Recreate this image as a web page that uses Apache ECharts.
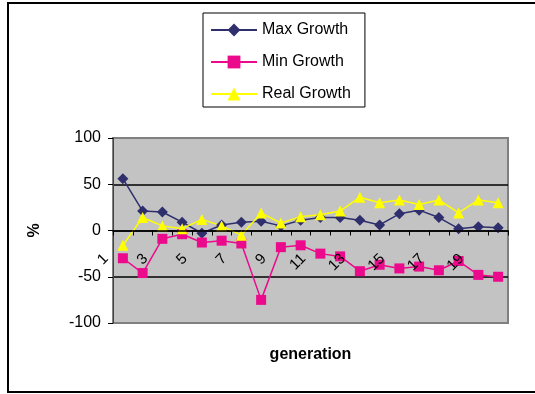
<!DOCTYPE html>
<html><head><meta charset="utf-8">
<script src="https://cdn.jsdelivr.net/npm/echarts@6/dist/echarts.min.js"></script>
<style>html,body{margin:0;padding:0;background:#fff}#c{width:535px;height:394px}</style>
</head><body><div id="c"></div>
<script>
var categories = ['1','2','3','4','5','6','7','8','9','10','11','12','13','14','15','16','17','18','19','20'];
var maxGrowth = [56, 21, 20, 9, -3, 6, 9, 10, 5, 11, 14, 14, 11, 6, 18, 22, 14, 2, 4, 3];
var minGrowth = [-30, -46, -9, -4, -13, -11, -14, -75, -18, -16, -25, -28, -44, -37, -41, -39, -43, -33, -48, -50];
var realGrowth = [-16, 14, 5, 2, 12, 5, -5, 19, 8, 15, 17, 21, 36, 30, 33, 28, 33, 19, 33, 30];
var yTicks = {min: -100, max: 100, interval: 50};

var chart = echarts.init(document.getElementById('c'));
var font = 'Arial, "Liberation Sans", sans-serif';
chart.setOption({
  animation: false,
  backgroundColor: '#fff',
  graphic: [{type:'rect', shape:{x:8, y:3, width:540, height:389}, style:{fill:'none', stroke:'#000', lineWidth:2}, z:-1}],
  legend: {
    orient: 'vertical', left: 203, top: 13,
    padding: [9, 14, 5, 7], itemGap: 16, itemWidth: 46, itemHeight: 16,
    borderColor: '#000', borderWidth: 1, backgroundColor: '#fff',
    textStyle: {fontFamily: font, fontSize: 16, color: '#000'},
    data: ['Max Growth', 'Min Growth', 'Real Growth']
  },
  grid: {left: 113, top: 138, right: 27, bottom: 71, show: true, outerBoundsMode: 'none', containLabel: false,
         backgroundColor: '#C3C3C3', borderColor: '#808080', borderWidth: 2},
  xAxis: {
    type: 'category', data: categories, boundaryGap: true, position: 'bottom', offset: -92.5, z: 5,
    name: 'generation', nameLocation: 'middle', nameGap: 116,
    nameTextStyle: {fontFamily: font, fontSize: 16, fontWeight: 'bold', color: '#000'},
    axisLine: {onZero: false, lineStyle: {color: '#000', width: 1.5}},
    axisTick: {show: true, alignWithLabel: false, interval: 0, length: 5, lineStyle: {color: '#000'}},
    axisLabel: {interval: 1, rotate: 45, margin: 9, padding: [0, 24, 0, 0], fontFamily: font, fontSize: 15, color: '#000'},
    splitLine: {show: false}
  },
  yAxis: {
    type: 'value', min: yTicks.min, max: yTicks.max, interval: yTicks.interval,
    name: '%', nameLocation: 'middle', nameGap: 70, nameRotate: 90,
    nameTextStyle: {fontFamily: font, fontSize: 16, fontWeight: 'bold', color: '#000'},
    axisLine: {show: true, lineStyle: {color: '#444', width: 1}},
    axisTick: {show: true, length: 5, lineStyle: {color: '#000'}},
    axisLabel: {margin: 12, fontFamily: font, fontSize: 16, color: '#000'},
    splitLine: {show: true, lineStyle: {color: ['#808080', '#000', '#000', '#000', '#808080'], width: 1.5}}
  },
  series: [
    {name: 'Max Growth', type: 'line', data: maxGrowth, symbol: 'diamond', symbolSize: 11,
     itemStyle: {color: '#2F2F6E'}, lineStyle: {color: '#2F2F6E', width: 1.5}},
    {name: 'Min Growth', type: 'line', data: minGrowth, symbol: 'rect', symbolSize: 10,
     itemStyle: {color: '#EC0A8C'}, lineStyle: {color: '#EC0A8C', width: 1.5}},
    {name: 'Real Growth', type: 'line', data: realGrowth, symbol: 'triangle', symbolSize: 11,
     itemStyle: {color: '#FFFF00'}, lineStyle: {color: '#FFFF00', width: 1.5}}
  ]
});
</script></body></html>
